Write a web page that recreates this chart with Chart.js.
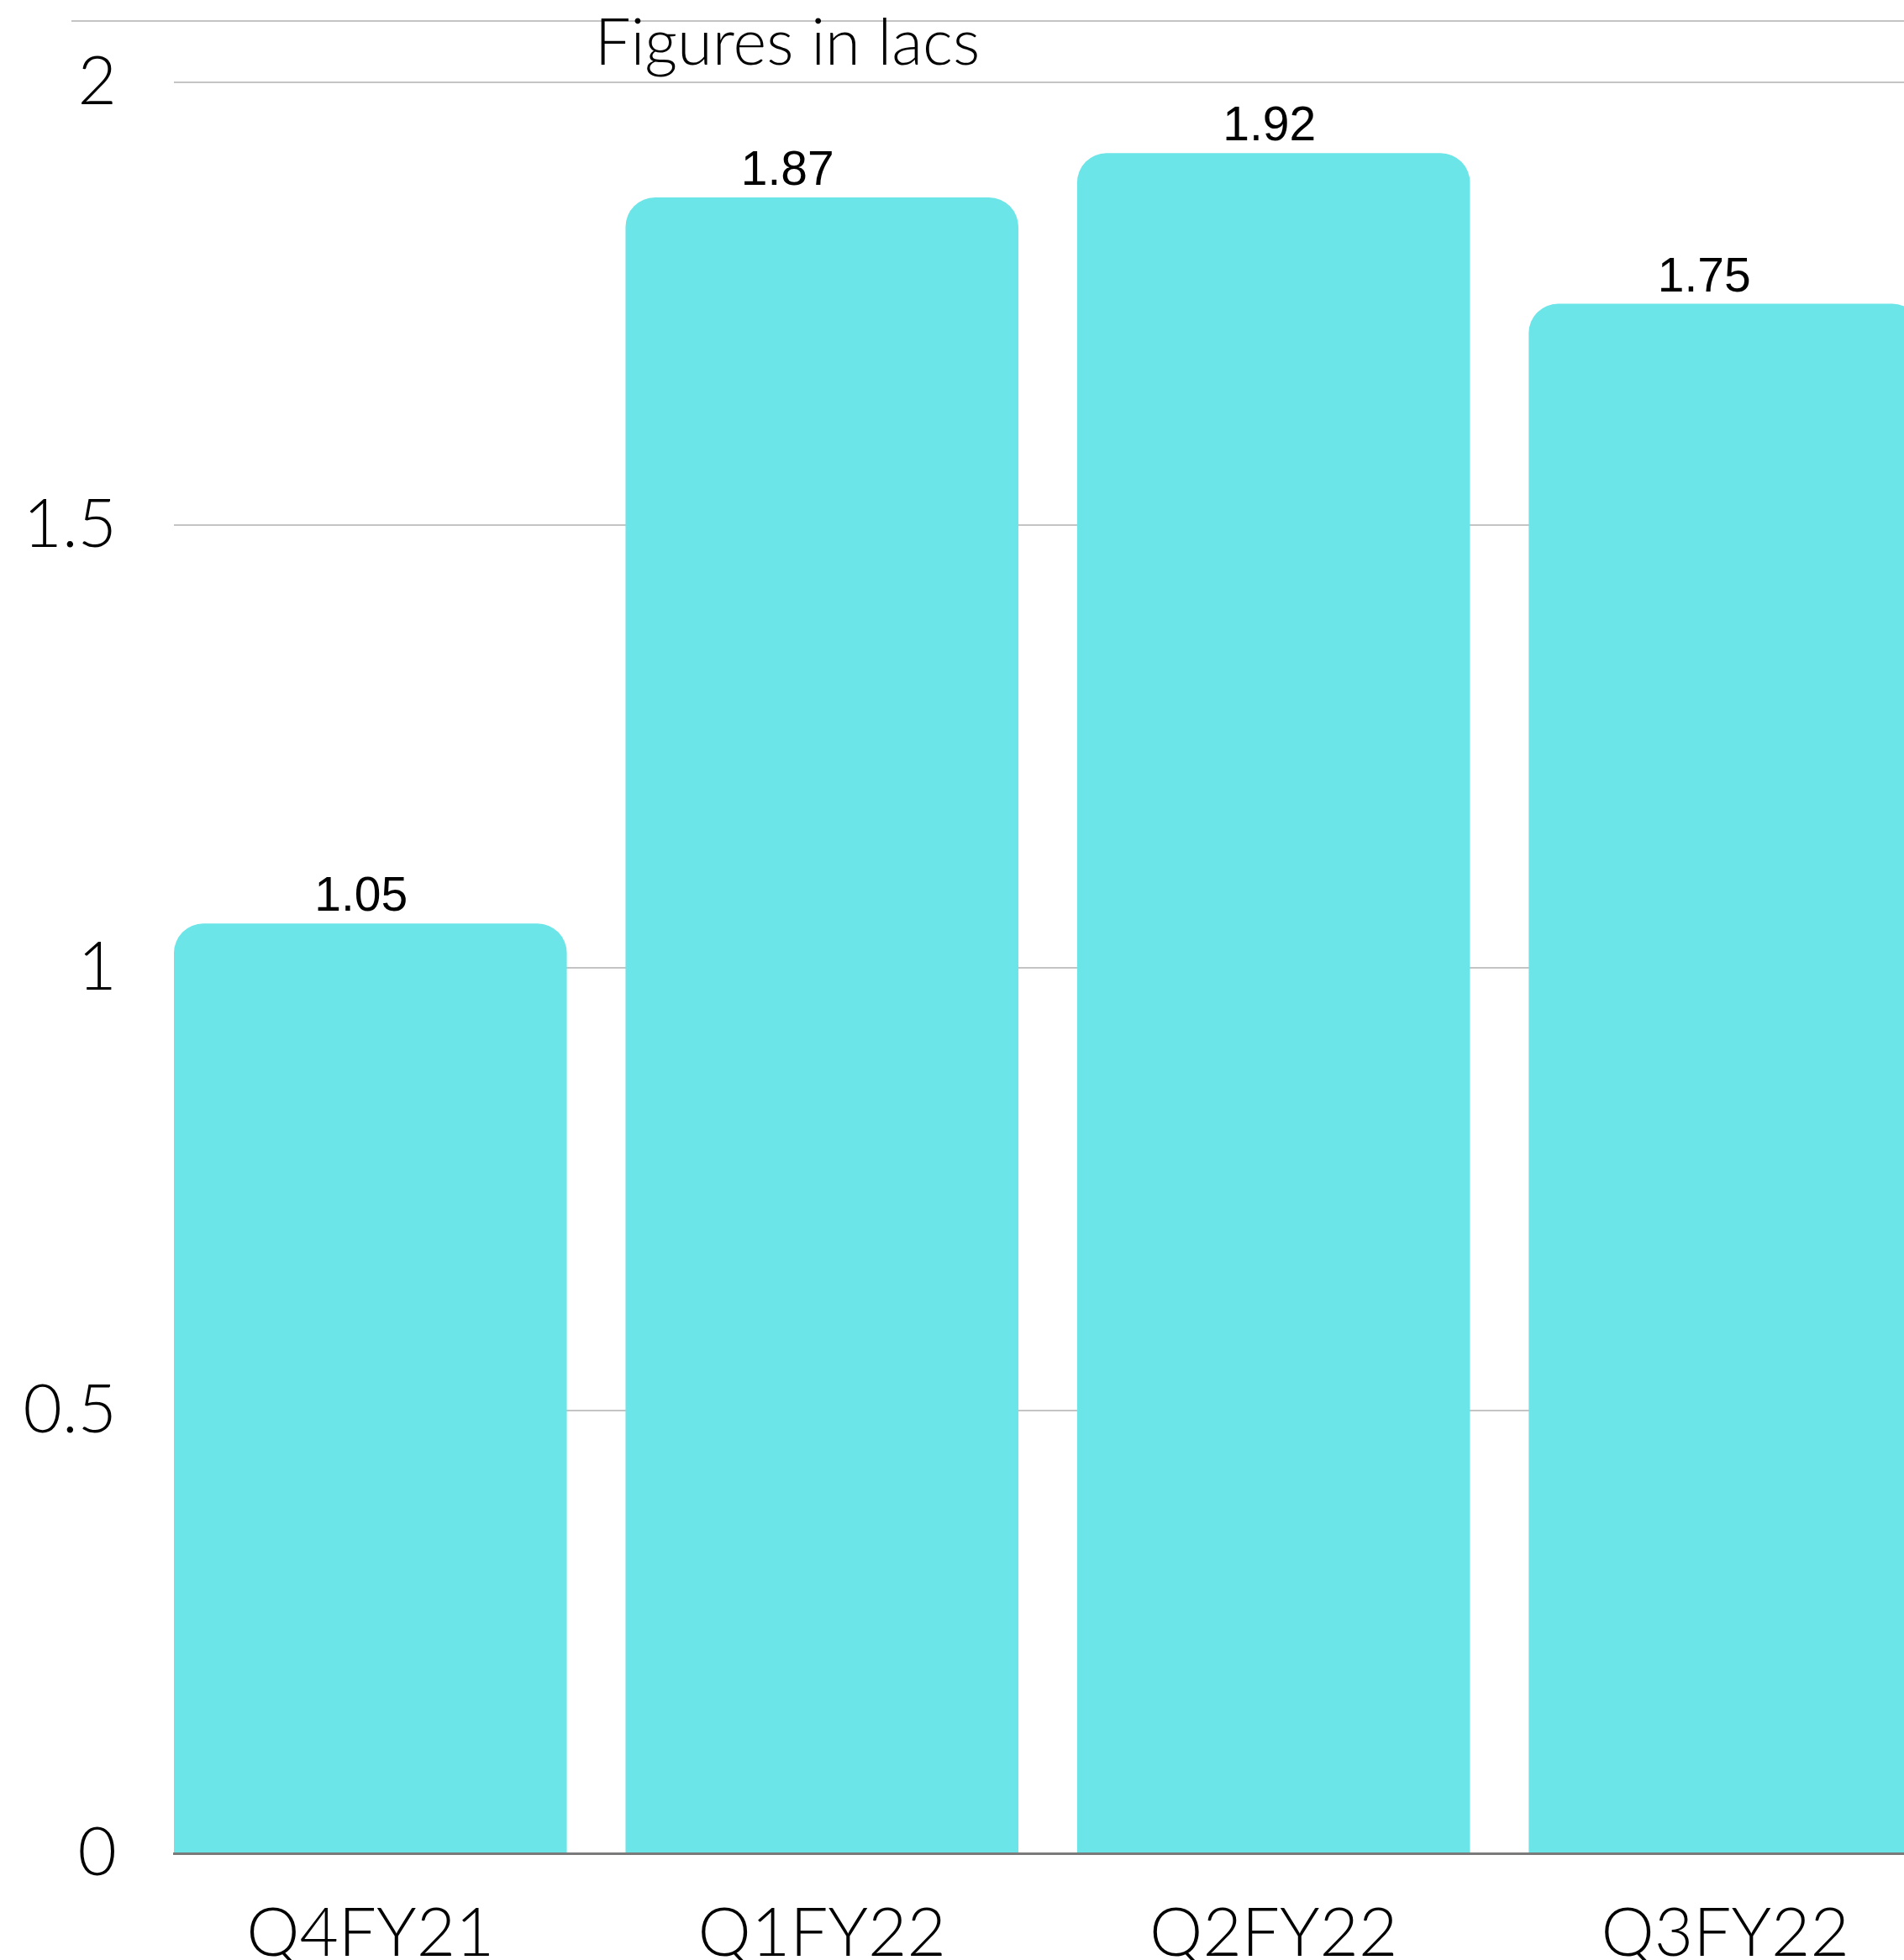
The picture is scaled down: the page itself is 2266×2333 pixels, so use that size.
<!DOCTYPE html>
<html>
<head>
<meta charset="utf-8">
<script src="https://cdn.jsdelivr.net/npm/chart.js@4.4.0/dist/chart.umd.min.js"></script>
<style>
  html, body { margin: 0; padding: 0; background: #fff; overflow: hidden; }
  #wrap { position: relative; width: 2266px; height: 2333px; }
  #topRule { position: absolute; left: 85px; right: 0; top: 24px; border-top: 2px solid #c4c4c4; }
  #note { position: absolute; left: 537px; width: 800px; top: 2px; text-align: center;
          font: 300 76px Lato, sans-serif; color: #000; line-height: 1.2; }
</style>
</head>
<body>
<div id="wrap">
  <canvas id="chart"></canvas>
  <div id="topRule"></div>
  <div id="note">Figures in lacs</div>
</div>
<script>
// data
const quarters = ["Q4FY21", "Q1FY22", "Q2FY22", "Q3FY22"];
const revenue = [1.05, 1.87, 1.92, 1.75];
const yTicks = [0, 0.5, 1, 1.5, 2];

// small sideways shifts of the value labels, as in the picture
const labelNudge = [-11, -41, -5, -25];

const barColor = "#6ce5e8";
const tickFont = { family: "Lato", weight: 300, size: 80, lineHeight: 1 };

// value labels above bars
const valueLabels = {
  id: "valueLabels",
  afterDatasetsDraw(chart) {
    const ctx = chart.ctx;
    const meta = chart.getDatasetMeta(0);
    ctx.save();
    ctx.font = "57px 'Liberation Sans', Arial, sans-serif";
    ctx.fillStyle = "#000";
    ctx.textAlign = "center";
    ctx.textBaseline = "alphabetic";
    meta.data.forEach((bar, i) => {
      ctx.fillText(revenue[i].toFixed(2), bar.x + labelNudge[i], bar.y - 15);
    });
    ctx.restore();
  }
};

new Chart(document.getElementById("chart"), {
  type: "bar",
  data: {
    datasets: [{
      data: revenue.map((v, i) => ({ x: i, y: v })),
      backgroundColor: barColor,
      borderWidth: 0,
      borderSkipped: "bottom",
      borderRadius: { topLeft: 35, topRight: 35, bottomLeft: 0, bottomRight: 0 },
      barPercentage: 0.87,
      categoryPercentage: 1
    }]
  },
  options: {
    responsive: true,
    maintainAspectRatio: false,
    animation: false,
    layout: { padding: { top: 98, right: 0, bottom: 0, left: 0 } },
    plugins: { legend: { display: false }, tooltip: { enabled: false } },
    scales: {
      x: {
        type: "linear",
        offset: false,
        min: -0.435,
        max: 3.396,
        grid: { display: false, drawTicks: false, offset: false },
        border: { display: true, color: "#7a7a7a", width: 3, z: 1 },
        ticks: {
          stepSize: 1,
          includeBounds: false,
          autoSkip: false,
          padding: 56,
          color: "#000",
          font: tickFont,
          callback: (v) => quarters[v] ?? ""
        },
        afterFit: (s) => { s.height = 127; }
      },
      y: {
        min: yTicks[0],
        max: yTicks[yTicks.length - 1],
        grid: { color: "#c4c4c4", lineWidth: 2, drawTicks: false },
        border: { display: false },
        ticks: {
          stepSize: 0.5,
          padding: 68,
          color: "#000",
          font: tickFont,
          callback: (v) => String(v)
        },
        afterFit: (s) => {
          s.width = 207;
          s.paddingTop = 0;
          s.paddingBottom = 0;
        }
      }
    }
  },
  plugins: [valueLabels]
});
</script>
</body>
</html>
